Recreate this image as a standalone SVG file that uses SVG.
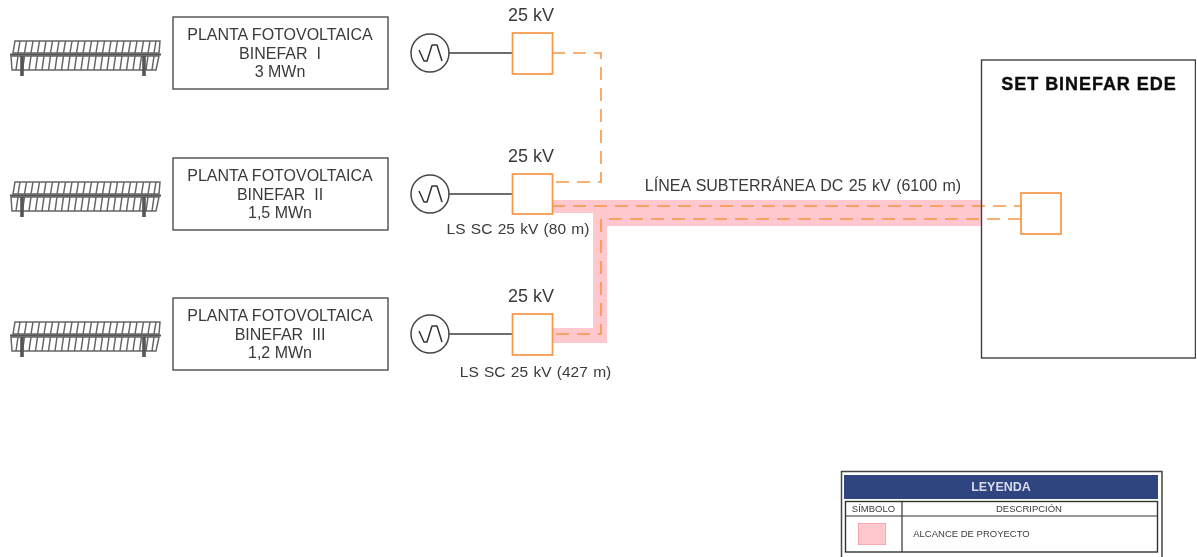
<svg xmlns="http://www.w3.org/2000/svg" xmlns:xlink="http://www.w3.org/1999/xlink" width="1197" height="557" viewBox="0 0 1197 557">
<style>
text{font-family:"Liberation Sans",Arial,sans-serif;fill:#3a3a3a;text-anchor:middle}
.t{font-size:16px}
.k{font-size:18px}
.l{font-size:15.5px;word-spacing:1px}
.box{fill:#fff;stroke:#3f3f3f;stroke-width:1.3}
.ob{fill:#fff;stroke:#f79646;stroke-width:1.7}
.gen{fill:#fff;stroke:#444;stroke-width:1.5}
.w{fill:none;stroke:#3f3f3f;stroke-width:1.4}
.dash{fill:none;stroke:#f79646;stroke-width:1.6;stroke-dasharray:13 8}
.p{fill:none;stroke:#666;stroke-width:1.5}
.pk{fill:#ffc7ce;stroke:none}
.g{fill:none;stroke:#333;stroke-width:1.5;stroke-linejoin:round}
</style>
<defs>
<filter id="soft" x="0" y="0" width="100%" height="100%"><feGaussianBlur stdDeviation="0.45"/></filter>
<g id="panel">
<path class="p" d="M15,41H160L159,53H13ZM11,56H159L156,70H12Z"/>
<path class="p" d="M20,41L18,53M26.500,41L24.500,53M33,41L31,53M39.500,41L37.500,53M46,41L44,53M52.500,41L50.500,53M59,41L57,53M65.500,41L63.500,53M72,41L70,53M78.500,41L76.500,53M85,41L83,53M91.500,41L89.500,53M98,41L96,53M104.500,41L102.500,53M111,41L109,53M117.500,41L115.500,53M124,41L122,53M130.500,41L128.500,53M137,41L135,53M143.500,41L141.500,53M150,41L148,53M156,41L154,53"/>
<path class="p" d="M18,56L16,70M24.500,56L22.500,70M31,56L29,70M37.500,56L35.500,70M44,56L42,70M50.500,56L48.500,70M57,56L55,70M63.500,56L61.500,70M70,56L68,70M76.500,56L74.500,70M83,56L81,70M89.500,56L87.500,70M96,56L94,70M102.500,56L100.500,70M109,56L107,70M115.500,56L113.500,70M122,56L120,70M128.500,56L126.500,70M135,56L133,70M141.500,56L139.500,70M148,56L146,70M154,56L152,70"/>
<path d="M10,54.500H161" fill="none" stroke="#555" stroke-width="2"/>
<path d="M22,56V76M144,56V76" fill="none" stroke="#555" stroke-width="3.600"/>
</g>
<g id="wave">
<circle class="gen" cx="0" cy="0" r="19"/>
<path class="g" d="M-11,-3L-6,8H-3L2,-8H7L12,8"/>
</g>
</defs>
<g filter="url(#soft)">
<g id="connectors">
<path class="pk" d="M552,200H981V226H607V343H552V328H593V213H552Z"/>
<path class="w" d="M449,53H512M449,194H512M449,334H512"/>
<path class="dash" d="M552,53H601V182H552"/>
<path class="dash" d="M552,206H1021"/>
<path class="dash" d="M1021,219H601V334H552"/>
</g>
<g id="planta1"><use xlink:href="#panel" href="#panel"/><rect class="box" x="173" y="17" width="215" height="72"/>
<text class="t" x="280" y="40">PLANTA FOTOVOLTAICA</text><text class="t" x="280" y="59" xml:space="preserve">BINEFAR  I</text><text class="t" x="280" y="77">3 MWn</text></g>
<g id="planta2"><use xlink:href="#panel" href="#panel" y="141"/><rect class="box" x="173" y="158" width="215" height="72"/>
<text class="t" x="280" y="181">PLANTA FOTOVOLTAICA</text><text class="t" x="280" y="200" xml:space="preserve">BINEFAR  II</text><text class="t" x="280" y="218">1,5 MWn</text></g>
<g id="planta3"><use xlink:href="#panel" href="#panel" y="281"/><rect class="box" x="173" y="298" width="215" height="72"/>
<text class="t" x="280" y="321">PLANTA FOTOVOLTAICA</text><text class="t" x="280" y="340" xml:space="preserve">BINEFAR  III</text><text class="t" x="280" y="358">1,2 MWn</text></g>
<g id="gen1"><use xlink:href="#wave" href="#wave" x="430" y="53"/></g>
<g id="gen2"><use xlink:href="#wave" href="#wave" x="430" y="194"/></g>
<g id="gen3"><use xlink:href="#wave" href="#wave" x="430" y="334"/></g>
<g id="trafo1"><rect class="ob" x="512.500" y="33" width="40" height="41"/><text class="k" x="531" y="21">25 kV</text></g>
<g id="trafo2"><rect class="ob" x="512.500" y="174" width="40" height="40"/><text class="k" x="531" y="162">25 kV</text><text class="l" x="518" y="234">LS SC 25 kV  (80 m)</text></g>
<g id="trafo3"><rect class="ob" x="512.500" y="314" width="40" height="41"/><text class="k" x="531" y="302">25 kV</text><text class="l" x="535.500" y="377">LS SC 25 kV  (427 m)</text></g>
<text x="803" y="191" style="font-size:16px;word-spacing:1px">LÍNEA SUBTERRÁNEA DC 25 kV  (6100 m)</text>
<g id="set"><rect x="981.500" y="60" width="214" height="298" fill="none" stroke="#3f3f3f" stroke-width="1.400"/>
<text x="1089" y="90" style="font-size:18px;font-weight:bold;fill:#111;stroke:#111;stroke-width:.4px;letter-spacing:.95px">SET BINEFAR EDE</text>
<rect class="ob" x="1021" y="193" width="40" height="41"/></g>
<g id="leyenda">
<path d="M841.500,557V471.500H1162V557" fill="#fff" stroke="#444" stroke-width="1.500"/>
<rect x="844" y="475" width="314" height="24" fill="#2f4480"/>
<text x="1001" y="491" style="font-size:12.500px;font-weight:bold;fill:#d8dcea">LEYENDA</text>
<rect x="845.500" y="501.500" width="312" height="50.500" fill="#fff" stroke="#333" stroke-width="1.400"/>
<path d="M845.500,516H1157.500M902,501.500V552" fill="none" stroke="#333" stroke-width="1.200"/>
<text x="873.500" y="512" style="font-size:9.500px">SÍMBOLO</text>
<text x="1029" y="512" style="font-size:9.500px">DESCRIPCIÓN</text>
<rect x="858.500" y="523.500" width="27" height="21" fill="#ffc7ce" stroke="#f8a8b0"/>
<text x="971.500" y="537" style="font-size:9.500px">ALCANCE DE PROYECTO</text>
</g>
</g>
</svg>
